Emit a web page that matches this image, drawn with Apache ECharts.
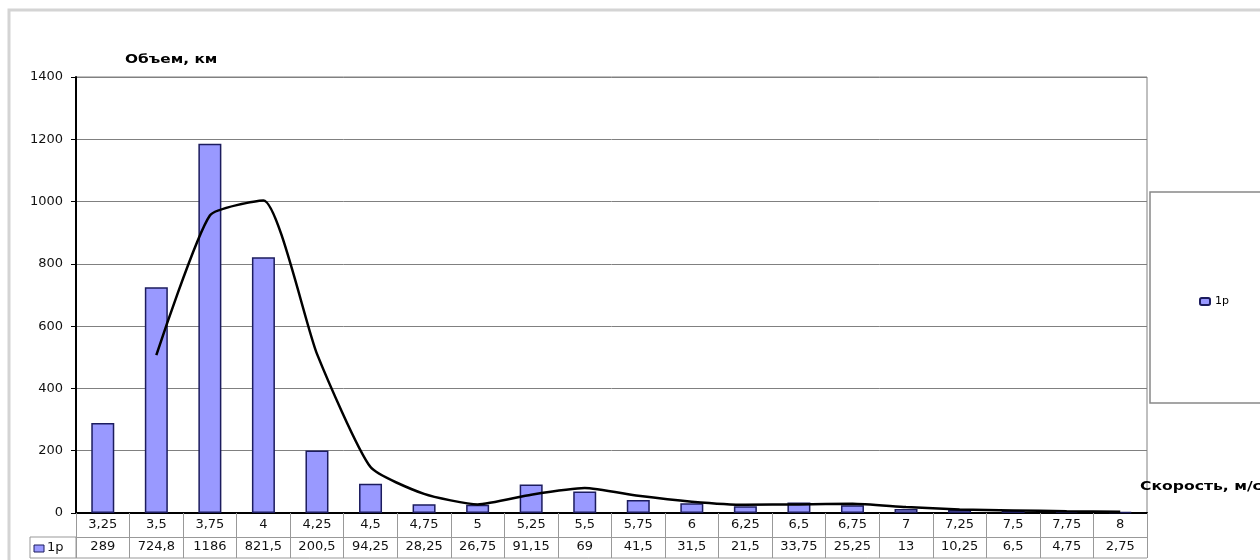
<!DOCTYPE html>
<html><head><meta charset="utf-8">
<script src="https://cdn.jsdelivr.net/npm/echarts@6/dist/echarts.min.js"></script>
<style>html,body{margin:0;padding:0;background:#fff}#c{width:1260px;height:560px}</style>
</head><body><div id="c"></div>
<script>
const categories = ['3,25','3,5','3,75','4','4,25','4,5','4,75','5','5,25','5,5','5,75','6','6,25','6,5','6,75','7','7,25','7,5','7,75','8'];
const volume = [289,724.8,1186,821.5,200.5,94.25,28.25,26.75,91.15,69,41.5,31.5,21.5,33.75,25.25,13,10.25,6.5,4.75,2.75];
const trend = [null,506.9,955.4,1003.75,511,147.4,61.25,27.5,58.95,80.1,55.25,36.5,26.5,27.6,29.5,19.1,11.6,8.4,5.6,3.75];
const yTickLabels = ['0','200','400','600','800','1000','1200','1400'];
const seriesName = '1p';
const yTitle = 'Объем, км';
const xTitle = 'Скорость, м/с';

const volumeLabels = volume.map(v => String(v).replace('.', ','));
const chart = echarts.init(document.getElementById('c'));
const font = 'DejaVu Sans, Verdana, sans-serif';
chart.setOption({
  animation: false,
  textStyle: {fontFamily: font},
  grid: {left: 76, right: 113, top: 77, bottom: 47, show: true, borderColor: '#808080', borderWidth: 1},
  legend: {data: [seriesName], left: 1194, top: 291, itemWidth: 10, itemHeight: 7, itemGap: 4,
    textStyle: {fontSize: 11, color: '#000', fontFamily: font}},
  xAxis: [
    {type: 'category', data: categories, position: 'bottom', boundaryGap: true,
     axisLine: {lineStyle: {color: '#000', width: 2}},
     axisTick: {show: true, length: 24, interval: 0, lineStyle: {color: '#999'}},
     axisLabel: {interval: 0, fontSize: 13, color: '#111', margin: 5}},
    {type: 'category', data: volumeLabels, position: 'bottom', offset: 24, boundaryGap: true,
     axisLine: {lineStyle: {color: '#999', width: 1}},
     axisTick: {show: true, length: 21, interval: 0, lineStyle: {color: '#999'}},
     axisLabel: {interval: 0, fontSize: 13, color: '#111', margin: 3}}
  ],
  yAxis: {type: 'value', min: 0, max: 1400, interval: 200,
    axisLine: {show: true, lineStyle: {color: '#000', width: 2}},
    axisTick: {show: true, length: 5, lineStyle: {color: '#000'}},
    axisLabel: {fontSize: 13, color: '#111', margin: 13, formatter: (v, i) => yTickLabels[i]},
    splitLine: {lineStyle: {color: '#808080', width: 1}}},
  series: [
    {name: seriesName, type: 'bar', data: volume, barWidth: 23,
     itemStyle: {color: '#9999ff', borderColor: '#1c1c5e', borderWidth: 1.5}},
    {name: 'trend', type: 'line', data: trend, smooth: 0.18, symbol: 'none',
     lineStyle: {color: '#000', width: 2.5}, connectNulls: false}
  ],
  graphic: [
    {type: 'rect', shape: {x: 9, y: 10, width: 1262, height: 560}, style: {fill: 'none', stroke: '#d4d4d4', lineWidth: 3}, silent: true},
    {type: 'rect', shape: {x: 1150, y: 192, width: 120, height: 211}, style: {fill: 'none', stroke: '#888', lineWidth: 1.5}, silent: true},
    {type: 'line', shape: {x1: 30, y1: 537, x2: 76, y2: 537}, style: {stroke: '#999', lineWidth: 1}},
    {type: 'line', shape: {x1: 30, y1: 558, x2: 1147, y2: 558}, style: {stroke: '#999', lineWidth: 1}},
    {type: 'line', shape: {x1: 30, y1: 537, x2: 30, y2: 558}, style: {stroke: '#999', lineWidth: 1}},
    {type: 'line', shape: {x1: 76, y1: 537, x2: 76, y2: 558}, style: {stroke: '#999', lineWidth: 1}},
    {type: 'rect', shape: {x: 34, y: 545, width: 10, height: 7}, style: {fill: '#9999ff', stroke: '#1c1c5e', lineWidth: 1}},
    {type: 'text', x: 47, y: 548, style: {text: seriesName, fontSize: 13, fill: '#111', fontFamily: font, textVerticalAlign: 'middle'}},
    {type: 'text', x: 125, y: 60, scaleX: 1.18, style: {text: yTitle, fontSize: 13, fontWeight: 'bold', fill: '#000', fontFamily: font, textVerticalAlign: 'middle'}},
    {type: 'text', x: 1140, y: 487, scaleX: 1.2, style: {text: xTitle, fontSize: 13, fontWeight: 'bold', fill: '#000', fontFamily: font, textVerticalAlign: 'middle'}}
  ]
});
</script></body></html>
